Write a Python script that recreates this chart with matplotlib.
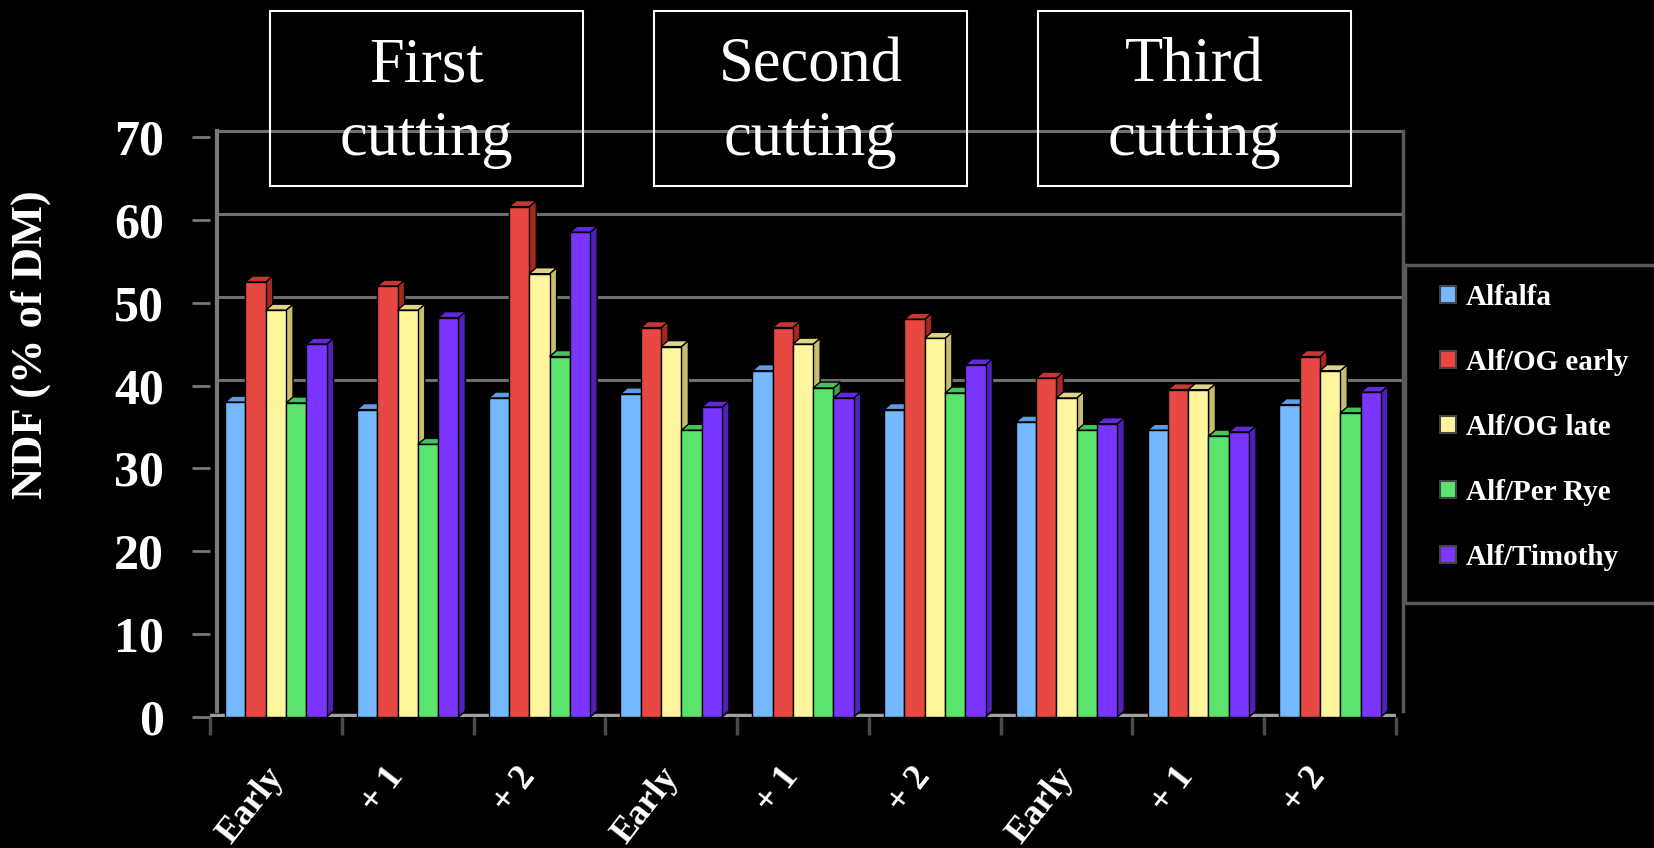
import matplotlib
matplotlib.use("Agg")
import matplotlib.pyplot as plt
import matplotlib.transforms as mtransforms
from matplotlib.patches import Polygon, Rectangle, Patch
import numpy as np

plt.rcParams["font.family"] = ["Liberation Serif", "DejaVu Serif"]

# NDF of each stand at three harvest stages, for three cuttings
stages = ["Early", "+ 1", "+ 2"] * 3
cuttings = ["First\ncutting", "Second\ncutting", "Third\ncutting"]
series = ["Alfalfa", "Alf/OG early", "Alf/OG late", "Alf/Per Rye", "Alf/Timothy"]

alfalfa = [38.0, 37.1, 38.5, 39.0, 41.8, 37.1, 35.6, 34.6, 37.7]
alf_og_early = [52.5, 52.0, 61.6, 47.0, 47.0, 48.0, 40.9, 39.5, 43.5]
alf_og_late = [49.1, 49.1, 53.5, 44.7, 45.0, 45.7, 38.5, 39.5, 41.8]
alf_per_rye = [37.9, 32.9, 43.5, 34.6, 39.7, 39.1, 34.6, 33.9, 36.7]
alf_timothy = [45.0, 48.2, 58.5, 37.4, 38.5, 42.5, 35.4, 34.4, 39.2]
values = [alfalfa, alf_og_early, alf_og_late, alf_per_rye, alf_timothy]

front = ["#74b8ff", "#e84842", "#fff59c", "#5ae46c", "#7a36ff"]
side = ["#4a86c8", "#a82820", "#c8bc70", "#34a844", "#5020b8"]
top = ["#5c9ee6", "#c43a32", "#e0d488", "#46c458", "#6428dc"]

W, H, DPI = 16.54, 8.48, 100
fig = plt.figure(figsize=(W, H), dpi=DPI, facecolor="black")
ax_l, ax_b, ax_r, ax_t = 210, 717, 1396, 137  # pixel box of the plot
ax = fig.add_axes([ax_l / 1654, (848 - ax_b) / 848,
                   (ax_r - ax_l) / 1654, (ax_b - ax_t) / 848])
ax.set_facecolor("black")
ax.set_xlim(-0.5, 8.5)
ax.set_ylim(0, 70)

# depth of the pseudo-3D walls and bars, in data units
dx = 7 / ((ax_r - ax_l) / 9)
dy = 6 / ((ax_b - ax_t) / 70)

x = np.arange(len(stages))
bw = 0.154

# back wall: gridlines, side walls, floor
for lv in [40, 50, 60, 70]:
    ax.plot([-0.5 + dx, 8.5 + dx], [lv + dy, lv + dy], color="#6e6e6e", lw=2.2,
            zorder=1, clip_on=False)
ax.plot([-0.5 + dx] * 2, [dy, 70 + dy], color="#7a7a7a", lw=3, zorder=1, clip_on=False)
ax.plot([8.5 + dx] * 2, [dy, 70 + dy], color="#5a5a5a", lw=2.5, zorder=1, clip_on=False)
ax.plot([-0.5, 8.5], [0.2, 0.2], color="#a0a0a0", lw=2.5, zorder=1)

for i, vals in enumerate(values):
    xs = x + (i - 2) * bw
    z = 3 + 2 * i
    for xc, v in zip(xs, vals):
        x0, x1 = xc - bw / 2, xc + bw / 2
        ax.add_patch(Polygon([(x1, 0), (x1 + dx, dy), (x1 + dx, v + dy), (x1, v)],
                             closed=True, facecolor=side[i], edgecolor="black",
                             lw=1, zorder=z))
        ax.add_patch(Polygon([(x0, v), (x0 + dx, v + dy), (x1 + dx, v + dy), (x1, v)],
                             closed=True, facecolor=top[i], edgecolor="black",
                             lw=1, zorder=z))
    ax.bar(xs, vals, bw, color=front[i], edgecolor="black", lw=1, zorder=z + 1)

for s in ax.spines.values():
    s.set_visible(False)

ax.set_yticks(np.arange(0, 71, 10))
ax.tick_params(axis="y", direction="out", length=13, width=2, color="#777777",
               pad=20, labelsize=36, labelcolor="white")
for lab in ax.get_yticklabels():
    lab.set_fontweight("bold")

ax.set_xticks(x)
ax.set_xticklabels(stages, rotation=52, ha="center", va="top",
                   fontsize=26, fontweight="bold", color="white")
ax.tick_params(axis="x", which="major", length=0, pad=32)
ax.set_xticks(np.arange(-0.5, 9, 1), minor=True)
ax.tick_params(axis="x", which="minor", direction="out", length=13, width=2.5,
               color="#4a4a4a")
shift = mtransforms.ScaledTranslation(-0.25, 0, fig.dpi_scale_trans)
for lab in ax.get_xticklabels():
    lab.set_transform(lab.get_transform() + shift)

fig.text(31 / 1654, 1 - 345 / 848, "NDF (% of DM)", rotation=90, fontsize=32,
         fontweight="bold", color="white", ha="center", va="center")

# cutting boxes across the top
for k, name in enumerate(cuttings):
    bx = 270 + 384 * k
    fig.patches.append(Rectangle((bx / 1654, 1 - 186 / 848), 313 / 1654, 175 / 848,
                                 transform=fig.transFigure, fill=False,
                                 edgecolor="white", lw=1.5))
    fig.text((bx + 156.5) / 1654, 1 - 103 / 848, name, fontsize=45, color="white",
             ha="center", va="center", linespacing=1.36)

# legend with its own frame running off the right edge
fig.patches.append(Rectangle((1405 / 1654, 1 - 603 / 848), 260 / 1654, 338 / 848,
                             transform=fig.transFigure, fill=False,
                             edgecolor="#5a5a5a", lw=2.5))
handles = [Patch(facecolor=c, edgecolor="#444444", lw=1.5) for c in front]
fig.legend(handles, series, loc="upper left",
           bbox_to_anchor=(1440 / 1654, 1 - 284 / 848), frameon=False,
           prop={"size": 21, "weight": "bold"}, labelcolor="white",
           handlelength=0.55, handleheight=0.55, handletextpad=0.35,
           labelspacing=1.3, borderpad=0, borderaxespad=0)

fig.savefig("out.png", dpi=DPI, facecolor="black")
